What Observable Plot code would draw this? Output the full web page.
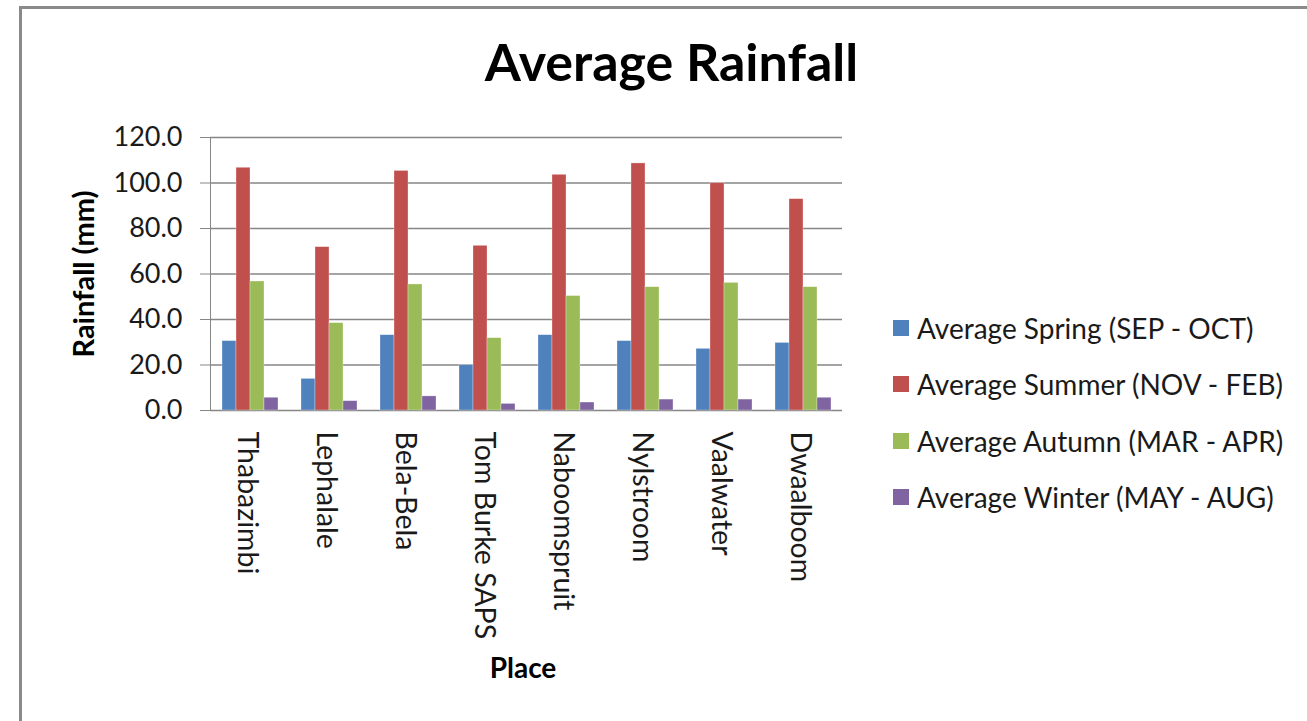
<!DOCTYPE html>
<html>
<head>
<meta charset="utf-8">
<script src="https://cdn.jsdelivr.net/npm/d3@7"></script>
<script src="https://cdn.jsdelivr.net/npm/@observablehq/plot@0.6"></script>
<style>
  html, body { margin: 0; padding: 0; background: #fff; }
  body { font-family: Lato, "Open Sans", sans-serif; }
  #wrap { position: relative; width: 1307px; height: 721px; overflow: hidden; background: #fff; }
  #border { position: absolute; left: 19px; top: 6px; width: 1400px; height: 800px; border-left: 3px solid #8a8a8a; border-top: 3px solid #8a8a8a; box-sizing: border-box; }
  #plot { position: absolute; left: 0; top: 0; }
  #title { position: absolute; left: 0; width: 1343px; top: 35px; text-align: center; font-weight: bold; font-size: 52px; color: #000; line-height: 1; }
  #ylabel { position: absolute; left: 82px; top: 274px; transform: translate(-50%, -50%) rotate(-90deg); font-weight: bold; font-size: 29px; white-space: nowrap; color: #000; }
  #xlabel { position: absolute; left: 523px; top: 667px; transform: translate(-50%, -50%); font-weight: bold; font-size: 28px; color: #000; }
  .leg { position: absolute; left: 893px; height: 30px; display: flex; align-items: center; font-size: 28px; color: #1a1a1a; white-space: nowrap; }
  .leg .sw { width: 16px; height: 16px; margin-right: 8px; flex: none; }
  svg text { fill: #1a1a1a; }
</style>
</head>
<body>
<div id="wrap">
  <div id="border"></div>
  <div id="plot"></div>
  <div id="title">Average Rainfall</div>
  <div id="ylabel">Rainfall (mm)</div>
  <div id="xlabel">Place</div>
</div>
<script>
const places = ["Thabazimbi", "Lephalale", "Bela-Bela", "Tom Burke SAPS", "Naboomspruit", "Nylstroom", "Vaalwater", "Dwaalboom"];
const seriesNames = ["Average Spring (SEP - OCT)", "Average Summer (NOV - FEB)", "Average Autumn (MAR - APR)", "Average Winter (MAY - AUG)"];
const spring = [30.5, 13.9, 33.1, 19.9, 33.1, 30.5, 27.1, 29.7];
const summer = [106.7, 71.8, 105.3, 72.4, 103.6, 108.6, 99.9, 92.9];
const autumn = [56.7, 38.4, 55.4, 31.8, 50.3, 54.2, 56.1, 54.2];
const winter = [5.6, 4.1, 6.2, 2.9, 3.5, 4.8, 4.8, 5.6];
const yTicks = [0, 20, 40, 60, 80, 100, 120];
const colors = ["#4F81BD", "#C0504D", "#9BBB59", "#8064A2"];

const seriesValues = [spring, summer, autumn, winter];
const data = [];
places.forEach((p, i) => {
  seriesNames.forEach((s, j) => data.push({place: p, series: s, value: seriesValues[j][i]}));
});

const chart = Plot.plot({
  width: 1307,
  height: 721,
  marginLeft: 206,
  marginRight: 462,
  marginTop: 137,
  marginBottom: 311,
  style: {fontFamily: "Lato, 'Open Sans', sans-serif", fontSize: "27px", color: "#868686", background: "transparent"},
  fx: {domain: places, padding: 0, axis: null, label: null},
  x: {domain: seriesNames, paddingInner: 0, paddingOuter: 0.75, axis: null},
  y: {domain: [0, 120], ticks: yTicks, tickFormat: d => d.toFixed(1), grid: true, line: true, tickSize: 10, tickPadding: 18, label: null},
  color: {domain: seriesNames, range: colors},
  marks: [
    Plot.barY(data, {fx: "place", x: "series", y: "value", fill: "series", stroke: "#ffffff", strokeOpacity: 0.5, strokeWidth: 0.6}),
    Plot.text(places, {fx: d => d, text: d => d, frameAnchor: "bottom", rotate: 90, textAnchor: "start", lineAnchor: "middle", dx: -3, dy: 21, fontSize: 28.5, fill: "#1a1a1a"})
  ]
});
document.getElementById("plot").appendChild(chart);

chart.querySelectorAll('[aria-label="y-grid"] line, [aria-label="y-grid"] path').forEach(el => { el.setAttribute("stroke", "#868686"); el.setAttribute("stroke-opacity", "1"); el.setAttribute("stroke-width", "1.4"); });

const wrap = document.getElementById("wrap");
const legTops = [328, 384, 441, 497];
seriesNames.forEach((s, j) => {
  const row = document.createElement("div");
  row.className = "leg";
  row.style.top = (legTops[j] - 15) + "px";
  const sw = document.createElement("div");
  sw.className = "sw";
  sw.style.background = colors[j];
  row.appendChild(sw);
  const t = document.createElement("span");
  t.textContent = s;
  row.appendChild(t);
  wrap.appendChild(row);
});
</script>
</body>
</html>
